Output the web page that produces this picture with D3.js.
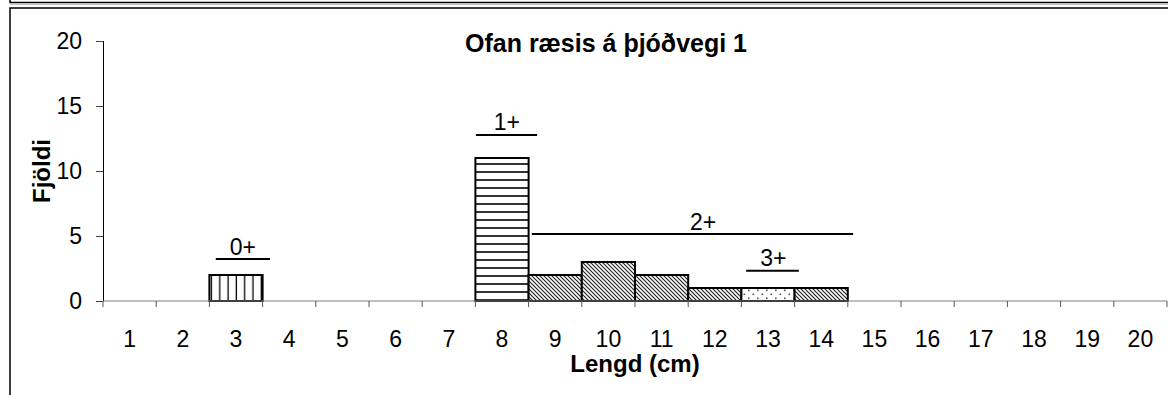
<!DOCTYPE html>
<html>
<head>
<meta charset="utf-8">
<script src="https://cdn.jsdelivr.net/npm/d3@7"></script>
<style>
  html, body { margin: 0; padding: 0; background: #fff; }
  svg { display: block; font-family: "Liberation Sans", Arial, sans-serif; }
</style>
</head>
<body>
<svg id="chart" width="1168" height="395"></svg>
<script>
// Length classes (cm) and number of fish caught in each class
const lengths = [1, 2, 3, 4, 5, 6, 7, 8, 9, 10, 11, 12, 13, 14, 15, 16, 17, 18, 19, 20];
const counts  = [0, 0, 2, 0, 0, 0, 0, 11, 2, 3, 2, 1, 1, 1, 0, 0, 0, 0, 0, 0];
// Age group each length class was assigned to
const ageOf   = [null, null, "0+", null, null, null, null, "1+", "2+", "2+", "2+", "2+", "3+", "2+",
                 null, null, null, null, null, null];
const yTicks  = [0, 5, 10, 15, 20];

// Age-group brackets: label, span along the length axis, height in counts
const groupLabels  = ["0+", "1+", "2+", "3+"];
const groupStart   = [2.62, 7.51, 8.56, 12.59];
const groupEnd     = [3.64, 8.66, 14.60, 13.58];
const groupLevel   = [3.23, 12.77, 5.15, 2.33];
const groupLabelAt = [3.13, 8.09, 11.78, 13.10];

const titleText  = "Ofan ræsis á þjóðvegi 1";
const xTitleText = "Lengd (cm)";
const yTitleText = "Fjöldi";

const svg = d3.select("#chart");
const W = 1168, H = 395;
const plot = { left: 103, right: 1167, top: 41, bottom: 301 };

svg.append("rect").attr("width", W).attr("height", H).attr("fill", "#fff");

// Frame edges of the surrounding chart boxes
const frame = svg.append("g").attr("fill", "none");
frame.append("path").attr("d", `M10,0V2.5H${W}`).attr("stroke", "#000").attr("stroke-width", 1.5);
frame.append("path").attr("d", `M10,4.5H${W}`).attr("stroke", "#c8c8c8").attr("stroke-width", 1);
frame.append("path").attr("d", `M10,${H}V8H${W}`).attr("stroke", "#000").attr("stroke-width", 1.5);

// Fill patterns, one per age group
const defs = svg.append("defs");
const pVert = defs.append("pattern").attr("id", "pat-0").attr("patternUnits", "userSpaceOnUse")
  .attr("width", 8.3).attr("height", 8);
pVert.append("rect").attr("width", 8.3).attr("height", 8).attr("fill", "#fff");
pVert.append("line").attr("x1", 4).attr("x2", 4).attr("y1", 0).attr("y2", 8)
  .attr("stroke", "#000").attr("stroke-width", 1.3);

const pHorz = defs.append("pattern").attr("id", "pat-1").attr("patternUnits", "userSpaceOnUse")
  .attr("width", 8).attr("height", 8);
pHorz.append("rect").attr("width", 8).attr("height", 8).attr("fill", "#fff");
pHorz.append("line").attr("x1", 0).attr("x2", 8).attr("y1", 4).attr("y2", 4)
  .attr("stroke", "#000").attr("stroke-width", 1.6);

const pDiag = defs.append("pattern").attr("id", "pat-2").attr("patternUnits", "userSpaceOnUse")
  .attr("width", 4).attr("height", 4);
pDiag.append("rect").attr("width", 4).attr("height", 4).attr("fill", "#fff");
pDiag.append("path").attr("d", "M-1,-1L5,5M-1,3L1,5M3,-1L5,1")
  .attr("stroke", "#222").attr("stroke-width", 1.2);

const pDot = defs.append("pattern").attr("id", "pat-3").attr("patternUnits", "userSpaceOnUse")
  .attr("width", 9).attr("height", 8);
pDot.append("rect").attr("width", 9).attr("height", 8).attr("fill", "#fff");
pDot.append("rect").attr("x", 1).attr("y", 1.5).attr("width", 1.6).attr("height", 1.6).attr("fill", "#555");
pDot.append("rect").attr("x", 5.5).attr("y", 5.5).attr("width", 1.6).attr("height", 1.6).attr("fill", "#555");

const patternFor = { "0+": "url(#pat-0)", "1+": "url(#pat-1)", "2+": "url(#pat-2)", "3+": "url(#pat-3)" };

// Scales
const x = d3.scaleBand().domain(lengths).range([plot.left, plot.right]).padding(0);
const xPos = d3.scaleLinear().domain([0.5, 20.5]).range([plot.left, plot.right]);
const y = d3.scaleLinear().domain([0, 20]).range([plot.bottom, plot.top]);

// Bars
const data = lengths.map((l, i) => ({ len: l, n: counts[i], age: ageOf[i] })).filter(d => d.n > 0);
svg.append("g").selectAll("rect").data(data).join("rect")
  .attr("x", d => x(d.len))
  .attr("y", d => y(d.n))
  .attr("width", x.bandwidth())
  .attr("height", d => y(0) - y(d.n))
  .attr("fill", d => patternFor[d.age])
  .attr("stroke", "#000")
  .attr("stroke-width", 2);

// Y axis
const yAxis = svg.append("g").attr("transform", `translate(${plot.left},0)`)
  .call(d3.axisLeft(y).tickValues(yTicks).tickSize(7).tickPadding(14).tickFormat(d3.format("d")));
yAxis.select(".domain").attr("stroke", "#000").attr("d", `M0.5,${plot.top}V${plot.bottom}`);
yAxis.selectAll(".tick line").attr("stroke", "#444");
yAxis.selectAll(".tick text").attr("font-size", 23).attr("fill", "#000")
  .attr("font-family", "Liberation Sans, Arial, sans-serif");

// X axis: ticks between categories, labels centred in each class
const xAxis = svg.append("g");
xAxis.append("line").attr("x1", plot.left).attr("x2", plot.right)
  .attr("y1", y(0)).attr("y2", y(0)).attr("stroke", "#808080").attr("stroke-width", 1.2);
const edges = lengths.map(l => x(l)).concat([x(lengths[lengths.length - 1]) + x.bandwidth()]);
xAxis.selectAll("line.tk").data(edges).join("line").attr("class", "tk")
  .attr("x1", d => d).attr("x2", d => d)
  .attr("y1", y(0)).attr("y2", y(0) + 6)
  .attr("stroke", "#555").attr("stroke-width", 1);
xAxis.selectAll("text").data(lengths).join("text")
  .attr("x", d => x(d) + x.bandwidth() / 2)
  .attr("y", 347)
  .attr("text-anchor", "middle")
  .attr("font-size", 23)
  .text(d => d);

// Age-group brackets and labels
const groups = groupLabels.map((g, i) => ({ g, a: groupStart[i], b: groupEnd[i], lvl: groupLevel[i], at: groupLabelAt[i] }));
const gg = svg.append("g");
gg.selectAll("line").data(groups).join("line")
  .attr("x1", d => xPos(d.a)).attr("x2", d => xPos(d.b))
  .attr("y1", d => y(d.lvl)).attr("y2", d => y(d.lvl))
  .attr("stroke", "#000").attr("stroke-width", 2);
gg.selectAll("text").data(groups).join("text")
  .attr("x", d => xPos(d.at))
  .attr("y", d => y(d.lvl) - 4.5)
  .attr("text-anchor", "middle")
  .attr("font-size", 23)
  .text(d => d.g);

// Titles
svg.append("text").attr("x", 606).attr("y", 52).attr("text-anchor", "middle")
  .attr("font-size", 25).attr("font-weight", "bold").text(titleText);
svg.append("text").attr("x", 635).attr("y", 372).attr("text-anchor", "middle")
  .attr("font-size", 24).attr("font-weight", "bold").text(xTitleText);
svg.append("text").attr("transform", "translate(50,171) rotate(-90)").attr("text-anchor", "middle")
  .attr("font-size", 24).attr("font-weight", "bold").text(yTitleText);
</script>
</body>
</html>
